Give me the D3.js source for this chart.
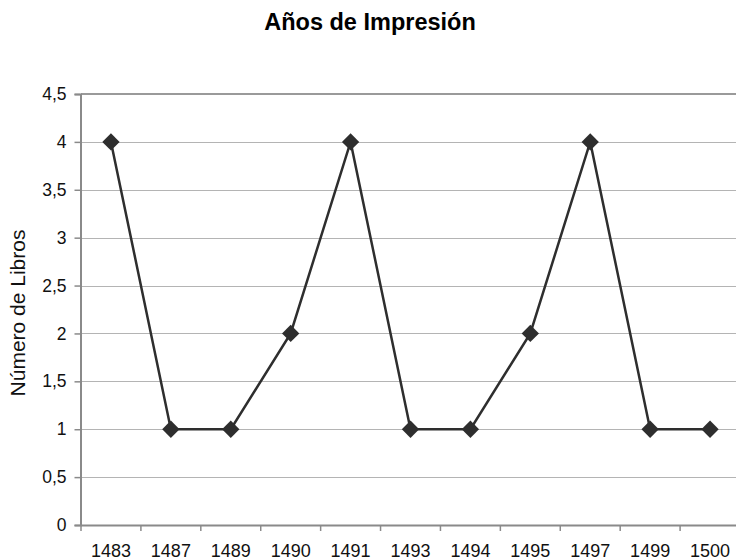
<!DOCTYPE html>
<html>
<head>
<meta charset="utf-8">
<script src="https://cdn.jsdelivr.net/npm/d3@7"></script>
<style>
  html, body { margin: 0; padding: 0; background: #fff; }
  svg { display: block; font-family: "Liberation Sans", Arial, sans-serif; }
</style>
</head>
<body>
<svg id="chart" width="736" height="560"></svg>
<script>
const categories = ["1483", "1487", "1489", "1490", "1491", "1493", "1494", "1495", "1497", "1499", "1500"];
const values = [4, 1, 1, 2, 4, 1, 1, 2, 4, 1, 1];
const yTicks = [0, 0.5, 1, 1.5, 2, 2.5, 3, 3.5, 4, 4.5];
const titleText = "Años de Impresión";
const yLabelText = "Número de Libros";

const svg = d3.select("#chart");
const plotLeft = 81, plotRight = 740, plotTop = 94, plotBottom = 525;

const x = d3.scaleBand().domain(categories).range([plotLeft, plotRight]).paddingInner(0).paddingOuter(0);
const y = d3.scaleLinear().domain([0, 4.5]).range([plotBottom, plotTop]);
const fmt = v => String(v).replace(".", ",");

// gridlines
svg.append("g").selectAll("line")
  .data(yTicks.filter(v => v > 0 && v < 4.5))
  .join("line")
  .attr("x1", plotLeft).attr("x2", 736)
  .attr("y1", d => Math.round(y(d)) + 0.5).attr("y2", d => Math.round(y(d)) + 0.5)
  .attr("stroke", "#b4b4b4").attr("stroke-width", 1);

// top border
svg.append("line")
  .attr("x1", plotLeft).attr("x2", 736)
  .attr("y1", y(4.5)).attr("y2", y(4.5))
  .attr("stroke", "#9a9a9a").attr("stroke-width", 2);

// y axis
const yAxis = d3.axisLeft(y).tickValues(yTicks).tickFormat(fmt).tickSize(6).tickPadding(8);
const gy = svg.append("g").attr("transform", `translate(${plotLeft - 0.5},0)`).call(yAxis);
gy.select(".domain").attr("stroke", "#8a8a8a").attr("stroke-width", 2);
gy.selectAll(".tick line").attr("stroke", "#8a8a8a").attr("stroke-width", 1.5);
gy.selectAll(".tick text").attr("font-size", 17.5).attr("fill", "#111")
  .attr("font-family", "Liberation Sans, Arial, sans-serif");

// x axis
const xAxis = d3.axisBottom(x).tickSize(0).tickPadding(19);
const gx = svg.append("g").attr("transform", `translate(0,${plotBottom})`).call(xAxis);
gx.select(".domain").attr("stroke", "#8a8a8a").attr("stroke-width", 2);
gx.selectAll(".tick text").attr("font-size", 18).attr("fill", "#111")
  .attr("font-family", "Liberation Sans, Arial, sans-serif");
// boundary ticks
const bounds = categories.map(c => x(c)).concat([x(categories[categories.length - 1]) + x.bandwidth()]);
svg.append("g").selectAll("line").data(bounds).join("line")
  .attr("x1", d => d).attr("x2", d => d)
  .attr("y1", plotBottom).attr("y2", plotBottom + 6)
  .attr("stroke", "#8a8a8a").attr("stroke-width", 1.5);

// line
const cx = c => x(c) + x.bandwidth() / 2;
const line = d3.line().x((d, i) => cx(categories[i])).y(d => y(d));
svg.append("path").datum(values)
  .attr("d", line)
  .attr("fill", "none").attr("stroke", "#2e2e2e").attr("stroke-width", 2.5);

// markers
const sym = d3.symbol().type(d3.symbolSquare).size(150);
svg.append("g").selectAll("path").data(values).join("path")
  .attr("d", sym)
  .attr("transform", (d, i) => `translate(${cx(categories[i])},${y(d)}) rotate(45)`)
  .attr("fill", "#2e2e2e");

// title
svg.append("text")
  .attr("x", 370).attr("y", 30)
  .attr("text-anchor", "middle")
  .attr("font-size", 23.5).attr("font-weight", "bold").attr("fill", "#000")
  .text(titleText);

// y label
svg.append("text")
  .attr("transform", "translate(25,313) rotate(-90)")
  .attr("text-anchor", "middle")
  .attr("font-size", 21).attr("fill", "#111")
  .text(yLabelText);
</script>
</body>
</html>
